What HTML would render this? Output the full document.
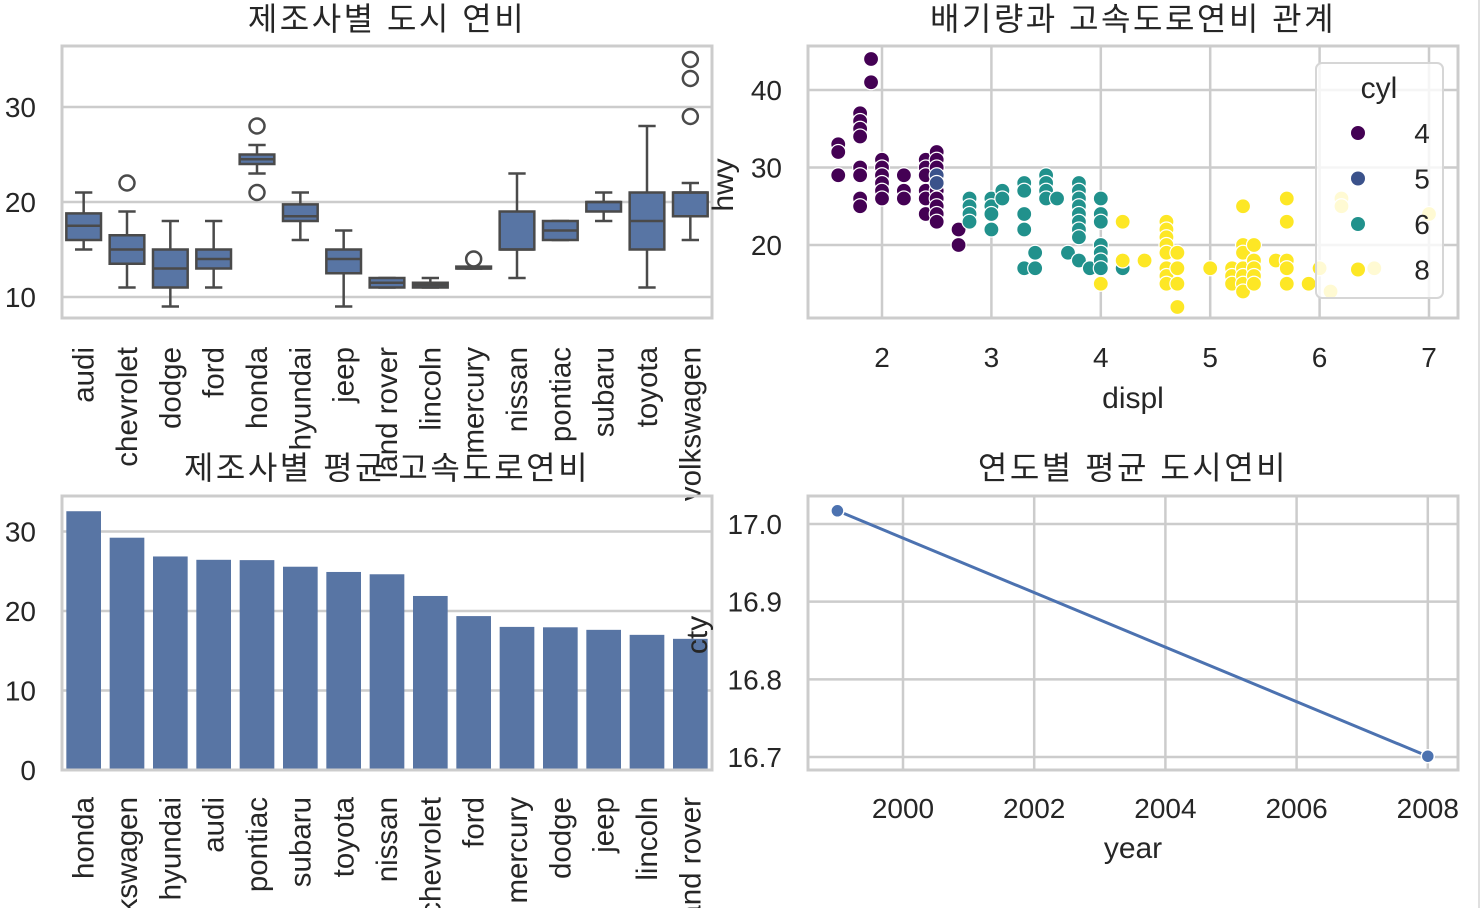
<!DOCTYPE html>
<html><head><meta charset="utf-8"><style>
html,body{margin:0;padding:0;background:#fff;}
svg{display:block;font-family:"Liberation Sans","Noto Sans CJK KR",sans-serif;}
text{fill:#262626;}
</style></head><body>
<svg id="fig" width="1482" height="908" viewBox="0 0 1482 908" xmlns="http://www.w3.org/2000/svg">
<rect x="0" y="0" width="1482" height="908" fill="#fff"/>
<line x1="1479" y1="0" x2="1479" y2="908" stroke="#e0e0e0" stroke-width="2"/>
<g id="box"></g>
<g id="sc"></g>
<g id="bar"></g>
<g id="ln"></g>
</svg>
<script>
const boxCats=["audi","chevrolet","dodge","ford","honda","hyundai","jeep","land rover","lincoln","mercury","nissan","pontiac","subaru","toyota","volkswagen"];
const boxLow=[15,11,9,11,23,16,9,11,11,13,12,16,18,11,16];
const boxQ1=[16,13.5,11,13,24,18,12.5,11,11,13,15,16,19,15,18.5];
const boxMed=[17.5,15,13,14,24.5,18.5,14,11.5,11.25,13,15,17,20,18,21];
const boxQ3=[18.8,16.5,15,15,25,19.75,15,12,11.5,13.2,19,18,20,21,21];
const boxHigh=[21,19,18,18,26,21,17,12,12,13,23,18,21,28,22];
const boxOut=[[],[22],[],[],[28,21],[],[],[],[],[14],[],[],[],[],[35,33,29]];
const boxTicks=[10,20,30];

const scDispl=[1.6,1.6,1.6,1.8,1.8,1.8,1.8,1.8,1.8,1.8,1.8,1.9,1.9,2.0,2.0,2.0,2.0,2.0,2.0,2.2,2.2,2.2,2.4,2.4,2.4,2.4,2.4,2.4,2.5,2.5,2.5,2.5,2.5,2.5,2.5,2.5,2.5,2.7,2.7,2.5,2.5,2.8,2.8,2.8,2.8,3.0,3.0,3.0,3.0,3.1,3.1,3.3,3.3,3.3,3.3,3.3,3.4,3.4,3.5,3.5,3.5,3.5,3.6,3.7,3.8,3.8,3.8,3.8,3.8,3.8,3.8,3.8,3.8,3.9,4.0,4.0,4.0,4.0,4.0,4.0,4.0,4.2,4.0,4.2,4.2,4.4,4.6,4.6,4.6,4.6,4.6,4.6,4.6,4.6,4.7,4.7,4.7,4.7,5.0,5.2,5.2,5.2,5.3,5.3,5.3,5.3,5.3,5.3,5.3,5.4,5.4,5.4,5.4,5.4,5.6,5.7,5.7,5.7,5.7,5.7,5.9,6.0,6.1,6.2,6.2,6.5,7.0];
const scHwy=[33,32,29,37,36,35,34,30,29,26,25,44,41,31,30,29,28,27,26,29,27,26,31,30,29,27,26,24,32,31,30,28,27,26,25,24,23,22,20,29,28,26,25,24,23,26,25,24,22,27,26,28,27,24,22,17,19,17,29,28,27,26,26,19,18,28,27,26,25,24,23,22,21,17,26,24,23,20,19,18,17,17,15,23,18,18,23,22,21,20,19,17,16,15,19,17,15,12,17,17,16,15,25,20,19,17,16,15,14,20,18,17,16,15,18,26,23,18,17,15,15,17,14,26,25,17,24];
const scCyl=[4,4,4,4,4,4,4,4,4,4,4,4,4,4,4,4,4,4,4,4,4,4,4,4,4,4,4,4,4,4,4,4,4,4,4,4,4,4,4,5,5,6,6,6,6,6,6,6,6,6,6,6,6,6,6,6,6,6,6,6,6,6,6,6,6,6,6,6,6,6,6,6,6,6,6,6,6,6,6,6,6,6,8,8,8,8,8,8,8,8,8,8,8,8,8,8,8,8,8,8,8,8,8,8,8,8,8,8,8,8,8,8,8,8,8,8,8,8,8,8,8,8,8,8,8,8,8];
const scXTicks=[2,3,4,5,6,7];
const scYTicks=[20,30,40];
const cylLevels=[4,5,6,8];

const barCats=["honda","volkswagen","hyundai","audi","pontiac","subaru","toyota","nissan","chevrolet","ford","mercury","dodge","jeep","lincoln","land rover"];
const barVals=[32.55,29.22,26.86,26.44,26.4,25.57,24.91,24.62,21.89,19.36,18.0,17.95,17.63,17.0,16.5];
const barTicks=[0,10,20,30];

const lnYears=[1999,2008];
const lnVals=[17.017,16.701];
const lnXTicks=[2000,2002,2004,2006,2008];
const lnYTicks=[16.7,16.8,16.9,17.0];

const NS="http://www.w3.org/2000/svg";
function mk(p,tag,attrs,txt){const e=document.createElementNS(NS,tag);for(const k in attrs)e.setAttribute(k,attrs[k]);if(txt!==undefined)e.textContent=txt;p.appendChild(e);return e;}
const GRID="#cccccc",EDGE="#4a4a4a",BLUE="#5875a4",FS=28,XFS=29.5;
function frame(g,x0,y0,x1,y1){const r=mk(g,'rect',{x:x0,y:y0,width:x1-x0,height:y1-y0,fill:'none',stroke:GRID,'stroke-width':3});}
function title(g,x,y,t){const e=mk(g,'text',{x:x,y:y,'font-size':32,'letter-spacing':2.5,'text-anchor':'middle'},t);}

// ---- Boxplot ----
(function(){
const g=document.getElementById('box');const X0=62,X1=712,Y0=46,Y1=318;
const ys=v=>297-(v-10)*9.5;const step=(X1-X0)/boxCats.length;const xc=i=>X0+step*(i+0.5);
title(g,387,30,"제조사별 도시 연비");
boxTicks.forEach(t=>{mk(g,'line',{x1:X0,x2:X1,y1:ys(t),y2:ys(t),stroke:GRID,'stroke-width':2.5});
const l=mk(g,'text',{x:36,y:ys(t)+10,'font-size':FS,'text-anchor':'end'},t);});
frame(g,X0,Y0,X1,Y1);
const w=step*0.8;
boxCats.forEach((c,i)=>{const x=xc(i);const bg=mk(g,'g',{});
mk(bg,'line',{x1:x,x2:x,y1:ys(boxHigh[i]),y2:ys(boxQ3[i]),stroke:EDGE,'stroke-width':2.5});
mk(bg,'line',{x1:x,x2:x,y1:ys(boxQ1[i]),y2:ys(boxLow[i]),stroke:EDGE,'stroke-width':2.5});
mk(bg,'line',{x1:x-w/4,x2:x+w/4,y1:ys(boxHigh[i]),y2:ys(boxHigh[i]),stroke:EDGE,'stroke-width':2.5});
mk(bg,'line',{x1:x-w/4,x2:x+w/4,y1:ys(boxLow[i]),y2:ys(boxLow[i]),stroke:EDGE,'stroke-width':2.5});
mk(bg,'rect',{x:x-w/2,y:ys(boxQ3[i]),width:w,height:Math.max(ys(boxQ1[i])-ys(boxQ3[i]),1),fill:BLUE,stroke:EDGE,'stroke-width':2.5});
mk(bg,'line',{x1:x-w/2,x2:x+w/2,y1:ys(boxMed[i]),y2:ys(boxMed[i]),stroke:EDGE,'stroke-width':2.5});
boxOut[i].forEach(o=>mk(bg,'circle',{cx:x,cy:ys(o),r:7.5,fill:'none',stroke:EDGE,'stroke-width':2.5}));
const l=mk(g,'text',{x:0,y:0,'font-size':XFS,'text-anchor':'end',transform:`translate(${x+10},347) rotate(-90)`},c);});
})();

// ---- Scatter ----
(function(){
const g=document.getElementById('sc');const X0=808,X1=1458,Y0=46,Y1=318;
const xs=v=>882+(v-2)*109.4, ys=v=>90+(40-v)*7.75;
title(g,1133,30,"배기량과 고속도로연비 관계");
scXTicks.forEach(t=>{mk(g,'line',{x1:xs(t),x2:xs(t),y1:Y0,y2:Y1,stroke:GRID,'stroke-width':2.5});
const l=mk(g,'text',{x:xs(t),y:367,'font-size':FS,'text-anchor':'middle'},t);});
scYTicks.forEach(t=>{mk(g,'line',{x1:X0,x2:X1,y1:ys(t),y2:ys(t),stroke:GRID,'stroke-width':2.5});
const l=mk(g,'text',{x:782,y:ys(t)+10,'font-size':FS,'text-anchor':'end'},t);});
frame(g,X0,Y0,X1,Y1);
const col={4:'#440154',5:'#3b528b',6:'#21918c',8:'#fde725'};
scDispl.forEach((d,i)=>{const c=mk(g,'circle',{cx:xs(d),cy:ys(scHwy[i]),r:7.5,fill:col[scCyl[i]],stroke:'#fff','stroke-width':1.2});});
const xl=mk(g,'text',{x:1133,y:408,'font-size':30,'text-anchor':'middle'},'displ');
const yl=mk(g,'text',{x:0,y:0,'font-size':30,'text-anchor':'middle',transform:'translate(733,185) rotate(-90)'},'hwy');
const lg=mk(g,'g',{});
mk(lg,'rect',{x:1316,y:63,width:127,height:235,rx:6,fill:'#ffffff','fill-opacity':0.8,stroke:'#d6d6d6','stroke-width':2});
mk(lg,'text',{x:1379,y:98,'font-size':30,'text-anchor':'middle'},'cyl');
cylLevels.forEach((c,i)=>{const y=133+i*45.5;const e=mk(lg,'g',{});
mk(e,'circle',{cx:1358,cy:y,r:7,fill:col[c]});mk(e,'text',{x:1422,y:y+10,'font-size':FS,'text-anchor':'middle'},c);});
})();

// ---- Bar ----
(function(){
const g=document.getElementById('bar');const X0=62,X1=712,Y0=496,Y1=770;
const ys=v=>770-v*7.95;const step=(X1-X0)/barCats.length;const xc=i=>X0+step*(i+0.5);
title(g,387,479,"제조사별 평균 고속도로연비");
barTicks.forEach(t=>{mk(g,'line',{x1:X0,x2:X1,y1:ys(t),y2:ys(t),stroke:GRID,'stroke-width':2.5});
const l=mk(g,'text',{x:36,y:ys(t)+10,'font-size':FS,'text-anchor':'end'},t);});
const w=step*0.8;
barCats.forEach((c,i)=>{const b=mk(g,'rect',{x:xc(i)-w/2,y:ys(barVals[i]),width:w,height:ys(0)-ys(barVals[i]),fill:BLUE});
const l=mk(g,'text',{x:0,y:0,'font-size':XFS,'text-anchor':'end',transform:`translate(${xc(i)+10},797) rotate(-90)`},c);});
frame(g,X0,Y0,X1,Y1);
})();

// ---- Line ----
(function(){
const g=document.getElementById('ln');const X0=808,X1=1458,Y0=496,Y1=770;
const xs=v=>903+(v-2000)*65.6, ys=v=>524+(17.0-v)*776.7;
title(g,1133,479,"연도별 평균 도시연비");
lnXTicks.forEach(t=>{mk(g,'line',{x1:xs(t),x2:xs(t),y1:Y0,y2:Y1,stroke:GRID,'stroke-width':2.5});
const l=mk(g,'text',{x:xs(t),y:818,'font-size':FS,'text-anchor':'middle'},t);});
lnYTicks.forEach(t=>{mk(g,'line',{x1:X0,x2:X1,y1:ys(t),y2:ys(t),stroke:GRID,'stroke-width':2.5});
const l=mk(g,'text',{x:782,y:ys(t)+10,'font-size':FS,'text-anchor':'end'},t.toFixed(1));});
frame(g,X0,Y0,X1,Y1);
const pts=lnYears.map((y,i)=>xs(y)+','+ys(lnVals[i])).join(' ');
const pl=mk(g,'polyline',{points:pts,fill:'none',stroke:'#4c72b0','stroke-width':3});
lnYears.forEach((y,i)=>{const c=mk(g,'circle',{cx:xs(y),cy:ys(lnVals[i]),r:6.5,fill:'#4c72b0',stroke:'#fff','stroke-width':1.5});});
const xl=mk(g,'text',{x:1133,y:858,'font-size':30,'text-anchor':'middle'},'year');
const yl=mk(g,'text',{x:0,y:0,'font-size':30,'text-anchor':'middle',transform:'translate(707,635) rotate(-90)'},'cty');
})();
</script>
</body></html>
